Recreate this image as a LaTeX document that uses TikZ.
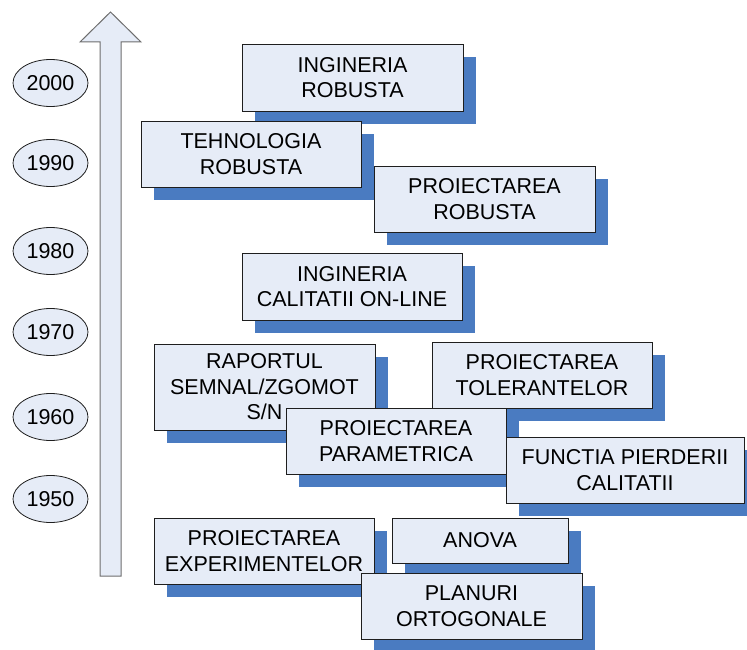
\documentclass[tikz,border=0pt]{standalone}
\usepackage{fontspec}
\setmainfont{Liberation Sans}
\usetikzlibrary{shapes.geometric,shadows}
\definecolor{boxfill}{RGB}{230,236,247}
\definecolor{shade}{RGB}{74,123,193}
\definecolor{edge}{RGB}{30,30,30}
\definecolor{arrowedge}{RGB}{110,110,110}

\tikzset{
  label font/.style={font=\fontsize{21.5}{25.5}\selectfont},
  topic/.style={rectangle, draw=edge, line width=0.9pt, fill=boxfill,
    inner sep=0pt, align=center, label font,
    drop shadow={shadow xshift=13pt, shadow yshift=-13pt, fill=shade, opacity=1}},
  year/.style={ellipse, draw=edge, line width=0.8pt, fill=boxfill,
    minimum width=75pt, minimum height=47pt, inner sep=0pt, label font},
  timeline/.style={draw=arrowedge, line width=1pt, fill=boxfill, line join=miter}
}

\begin{document}
\begin{tikzpicture}[x=1pt,y=-1pt]
\useasboundingbox (0,0) rectangle (747,650);
\clip (0,0) rectangle (747,650);

% time axis
\draw[timeline] (100,576) -- (100,42) -- (80,42) -- (110.5,12) -- (141,42)
  -- (121,42) -- (121,576) -- cycle;

% decades
\node[year] (y2000) at (50.5,83)  {2000};
\node[year] (y1990) at (50.5,163) {1990};
\node[year] (y1980) at (50.5,251) {1980};
\node[year] (y1970) at (50.5,332) {1970};
\node[year] (y1960) at (50.5,417) {1960};
\node[year] (y1950) at (50.5,499) {1950};

% methods
\node[topic, minimum width=221pt, minimum height=67pt] (ingrob) at (352.5,77.5)
  {INGINERIA\\ROBUSTA};
\node[topic, minimum width=220pt, minimum height=66pt] (tehrob) at (251,154)
  {TEHNOLOGIA\\ROBUSTA};
\node[topic, minimum width=221pt, minimum height=66pt] (proirob) at (484.5,199)
  {PROIECTAREA\\ROBUSTA};
\node[topic, minimum width=220pt, minimum height=67pt] (ingcal) at (352,286.5)
  {INGINERIA\\CALITATII ON-LINE};
\node[topic, minimum width=221pt, minimum height=86pt] (raport) at (264.5,387)
  {RAPORTUL\\SEMNAL/ZGOMOT\\S/N};
\node[topic, minimum width=220pt, minimum height=66pt] (toler) at (542,375)
  {PROIECTAREA\\TOLERANTELOR};
\node[topic, minimum width=220pt, minimum height=66pt] (param) at (396,441)
  {PROIECTAREA\\PARAMETRICA};
\node[topic, minimum width=238pt, minimum height=66pt] (functia) at (625,470)
  {FUNCTIA PIERDERII\\CALITATII};
\node[topic, minimum width=220pt, minimum height=66pt] (experim) at (264,551)
  {PROIECTAREA\\EXPERIMENTELOR};
\node[topic, minimum width=176pt, minimum height=45pt] (anova) at (480,540.5)
  {ANOVA};
\node[topic, minimum width=221pt, minimum height=66pt] (planuri) at (471.5,606)
  {PLANURI\\ORTOGONALE};
\end{tikzpicture}
\end{document}
